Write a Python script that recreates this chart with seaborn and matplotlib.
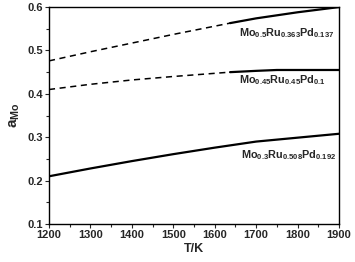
import matplotlib
matplotlib.use("Agg")
import matplotlib.pyplot as plt
import seaborn as sns
import pandas as pd
from matplotlib.ticker import MultipleLocator

# Mo0.5Ru0.363Pd0.137
t_a_dash = [1200, 1300, 1400, 1500, 1637]
a_dash = [0.476, 0.497, 0.517, 0.537, 0.563]
t_a_solid = [1637, 1700, 1800, 1900]
a_solid = [0.563, 0.574, 0.588, 0.600]

# Mo0.45Ru0.45Pd0.1
t_b_dash = [1200, 1300, 1400, 1500, 1637]
b_dash = [0.410, 0.422, 0.432, 0.440, 0.450]
t_b_solid = [1637, 1700, 1750, 1800, 1900]
b_solid = [0.450, 0.453, 0.455, 0.455, 0.455]

# Mo0.3Ru0.508Pd0.192
t_c = [1200, 1300, 1400, 1500, 1600, 1700, 1800, 1900]
c_vals = [0.210, 0.228, 0.245, 0.261, 0.276, 0.290, 0.299, 0.308]

labels = [r"$\mathbf{Mo_{0.5}Ru_{0.363}Pd_{0.137}}$",
          r"$\mathbf{Mo_{0.45}Ru_{0.45}Pd_{0.1}}$",
          r"$\mathbf{Mo_{0.3}Ru_{0.508}Pd_{0.192}}$"]

sns.set_style("ticks")
plt.rcParams['font.family'] = ['Liberation Sans', 'DejaVu Sans']
plt.rcParams['mathtext.fontset'] = 'custom'
plt.rcParams['mathtext.bf'] = 'Liberation Sans:bold'
plt.rcParams['mathtext.rm'] = 'Liberation Sans'

fig = plt.figure(figsize=(3.55, 2.62), dpi=100)
ax = fig.add_axes([0.138, 0.145, 0.817, 0.828])

dash = dict(color="black", lw=1.1, linestyle=(0, (4, 3)))
solid = dict(color="black", lw=1.6)
sns.lineplot(x=t_a_dash, y=a_dash, ax=ax, **dash)
sns.lineplot(x=t_a_solid, y=a_solid, ax=ax, **solid)
sns.lineplot(x=t_b_dash, y=b_dash, ax=ax, **dash)
sns.lineplot(x=t_b_solid, y=b_solid, ax=ax, **solid)
sns.lineplot(x=t_c, y=c_vals, ax=ax, **solid)

ax.text(1658, 0.533, labels[0], fontsize=7.8)
ax.text(1658, 0.425, labels[1], fontsize=7.8)
ax.text(1663, 0.252, labels[2], fontsize=7.8)

ax.set_xlim(1200, 1900)
ax.set_ylim(0.1, 0.6)
ax.xaxis.set_major_locator(MultipleLocator(100))
ax.xaxis.set_minor_locator(MultipleLocator(50))
ax.yaxis.set_major_locator(MultipleLocator(0.1))
ax.yaxis.set_minor_locator(MultipleLocator(0.05))
ax.tick_params(which="major", direction="out", length=3, width=0.8, labelsize=8, pad=1.5)
ax.tick_params(which="minor", direction="out", length=2, width=0.8)
for lab in ax.get_xticklabels() + ax.get_yticklabels():
    lab.set_fontweight("bold")
for s in ax.spines.values():
    s.set_linewidth(1.0)
    s.set_color("black")

ax.set_xlabel("T/K", fontsize=9, fontweight="bold", labelpad=2)
ax.set_ylabel(r"$\mathbf{a_{Mo}}$", fontsize=11, labelpad=4)

fig.savefig("out.png", dpi=100)
